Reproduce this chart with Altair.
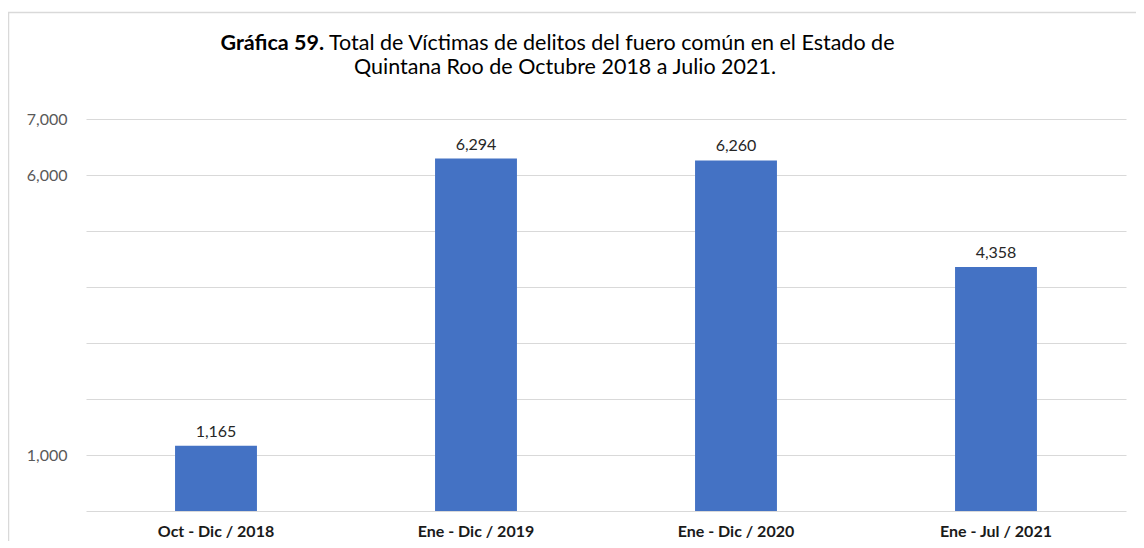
import altair as alt
import pandas as pd

periods = ["Oct - Dic / 2018", "Ene - Dic / 2019", "Ene - Dic / 2020", "Ene - Jul / 2021"]
victims = [1165, 6294, 6260, 4358]
title_bold = "Gráfica 59."
title_rest = "Total de Víctimas de delitos del fuero común en el Estado de"
title_line2 = "Quintana Roo de Octubre 2018 a Julio 2021."
y_ticks = [0, 1000, 2000, 3000, 4000, 5000, 6000, 7000]

FONT = "Lato"
df = pd.DataFrame({"periodo": periods, "victimas": victims})

W, H = 1040, 392

xenc = alt.X("periodo:N", sort=periods,
             scale=alt.Scale(paddingInner=0.685, paddingOuter=0.3425),
             axis=alt.Axis(title=None, labelAngle=0, labelFont=FONT, labelFontSize=16,
                           labelFontWeight="bold", labelColor="#1a1a1a", labelPadding=12,
                           domain=False, ticks=False, grid=False))
yenc = alt.Y("victimas:Q", scale=alt.Scale(domain=[0, 7000], nice=False),
             axis=alt.Axis(title=None, values=y_ticks,
                           labelExpr="(datum.value == 1000 || datum.value >= 6000) ? format(datum.value, ',') : ''",
                           labelFont=FONT, labelFontSize=16, labelColor="#595959",
                           labelPadding=19, domain=False, ticks=False,
                           gridColor="#d9d9d9", gridWidth=1.2))

base = alt.Chart(df)
bars = base.mark_bar(color="#4472C4").encode(x=xenc, y=yenc)
labels = base.mark_text(baseline="alphabetic", dy=-9, font=FONT, fontSize=16, color="#262626").encode(
    x=alt.X("periodo:N", sort=periods), y="victimas:Q",
    text=alt.Text("victimas:Q", format=","))

TS = 21.5
t1 = alt.Chart(pd.DataFrame({"t": [title_bold]})).mark_text(
    align="right", baseline="alphabetic", font=FONT, fontSize=TS, fontWeight="bold", color="#000000"
).encode(x=alt.value(238), y=alt.value(-69), text="t:N")
t2 = alt.Chart(pd.DataFrame({"t": [title_rest]})).mark_text(
    align="left", baseline="alphabetic", font=FONT, fontSize=TS, color="#000000"
).encode(x=alt.value(243), y=alt.value(-69), text="t:N")
t3 = alt.Chart(pd.DataFrame({"t": [title_line2]})).mark_text(
    align="center", baseline="alphabetic", font=FONT, fontSize=TS, color="#000000"
).encode(x=alt.value(479), y=alt.value(-45), text="t:N")

border = alt.Chart(pd.DataFrame({"b": [0]})).mark_rect(
    fill=None, stroke="#d9d9d9", strokeWidth=1.5
).encode(x=alt.value(-77.5), x2=alt.value(1100), y=alt.value(-106.5), y2=alt.value(500))

chart = alt.layer(border, bars, labels, t1, t2, t3).properties(
    width=W, height=H,
    autosize=alt.AutoSizeParams(type="none"),
    padding={"left": 78, "top": 111, "right": 10, "bottom": 30},
).configure(background="white", view=alt.ViewConfig(stroke=None))

chart.save("out.html", embed_options={"renderer": "svg", "actions": False})
